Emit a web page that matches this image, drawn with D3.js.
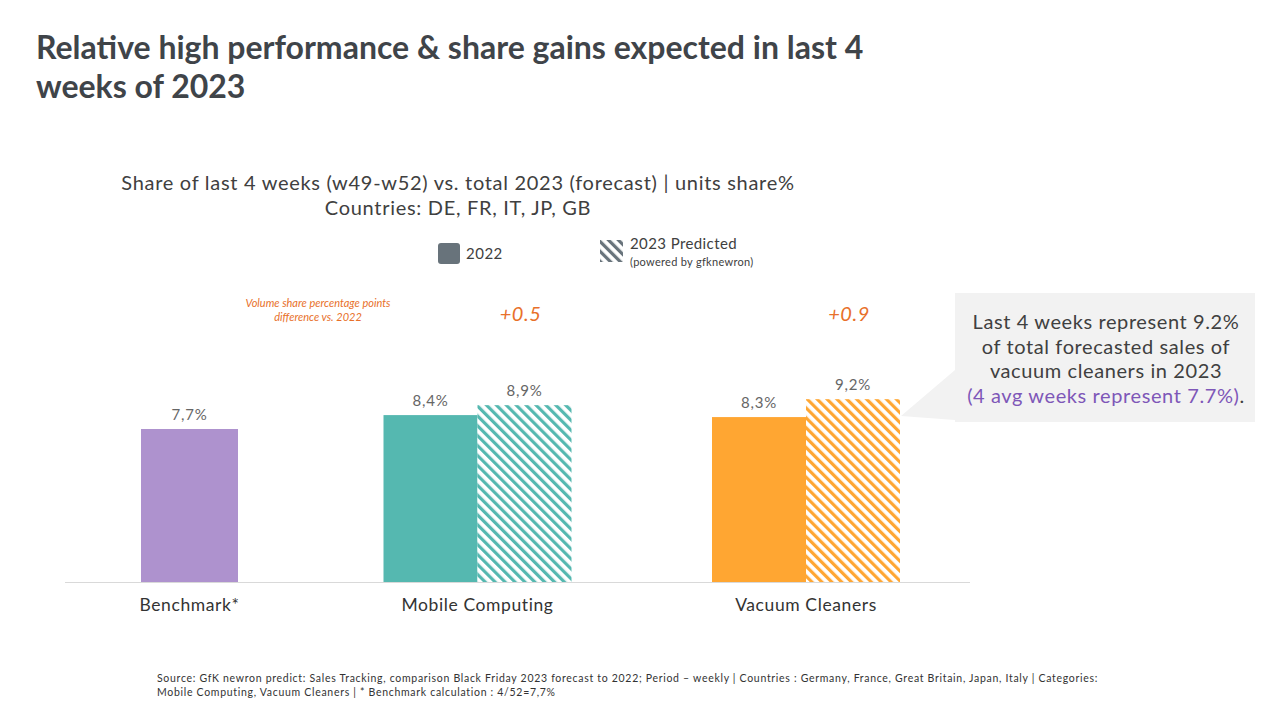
<!DOCTYPE html>
<html>
<head>
<meta charset="utf-8">
<script src="https://cdn.jsdelivr.net/npm/d3@7"></script>
<style>
  body { margin: 0; background: #fff; }
  svg { font-family: Lato, "Open Sans", sans-serif; }
</style>
</head>
<body>
<svg id="chart" width="1280" height="720"></svg>
<script>
// data
const categories = ["Benchmark*", "Mobile Computing", "Vacuum Cleaners"];
const seriesNames = ["2022", "2023 Predicted"];
const values2022 = [7.7, 8.4, 8.3];
const values2023 = [null, 8.9, 9.2];
const valueLabels2022 = ["7,7%", "8,4%", "8,3%"];
const valueLabels2023 = [null, "8,9%", "9,2%"];
const diffLabels = [null, "+0.5", "+0.9"];
const categoryColors = ["#AE92CE", "#55B8B0", "#FFA632"];

const titleLines = ["Relative high performance & share gains expected in last 4", "weeks of 2023"];
const subtitleLines = ["Share of last 4 weeks (w49-w52) vs. total 2023 (forecast) | units share%", "Countries: DE, FR, IT, JP, GB"];
const noteLines = ["Volume share percentage points", "difference vs. 2022"];
const calloutLines = ["Last 4 weeks represent 9.2%", "of total forecasted sales of", "vacuum cleaners in 2023"];
const calloutPurple = "(4 avg weeks represent 7.7%)";
const sourceLines = [
  "Source: GfK newron predict: Sales Tracking, comparison Black Friday 2023 forecast to 2022; Period \u2013 weekly  | Countries : Germany, France, Great Britain, Japan, Italy | Categories:",
  "Mobile Computing, Vacuum Cleaners | * Benchmark calculation :  4/52=7,7%"
];

const svg = d3.select("#chart");
const baseline = 582;

// scales (category centres are not evenly spaced in the original)
const x = d3.scaleOrdinal().domain(categories).range([189.5, 477.5, 806]);
const barW = 94;
const inner = d3.scaleBand().domain(seriesNames).range([-barW, barW]);
const y = d3.scaleLinear().domain([0, 10]).range([baseline, baseline - 198.7]);

// hatch patterns
const defs = svg.append("defs");
function hatch(id, color) {
  const p = defs.append("pattern")
    .attr("id", id)
    .attr("patternUnits", "userSpaceOnUse")
    .attr("width", 7).attr("height", 7)
    .attr("patternTransform", "rotate(-45)");
  p.append("rect").attr("width", 7).attr("height", 7).attr("fill", "#fff");
  p.append("rect").attr("x", 0).attr("width", 3.2).attr("height", 7).attr("fill", color);
}
categoryColors.forEach((c, i) => hatch("hatch" + i, c));
hatch("hatchLegend", "#68737B");

// title
svg.append("text")
  .attr("fill", "#3F4449")
  .attr("font-size", 32).attr("font-weight", 700)
  .selectAll("tspan").data(titleLines).join("tspan")
  .attr("x", 36).attr("y", (d, i) => 59 + i * 39)
  .text(d => d);

// subtitle
svg.append("text")
  .attr("text-anchor", "middle")
  .attr("fill", "#404040")
  .attr("font-size", 20).attr("letter-spacing", 0.7)
  .selectAll("tspan").data(subtitleLines).join("tspan")
  .attr("x", 458).attr("y", (d, i) => 190 + i * 25)
  .text(d => d);

// legend
const legend = svg.append("g");
legend.append("rect")
  .attr("x", 438).attr("y", 243).attr("width", 22).attr("height", 21)
  .attr("rx", 3).attr("fill", "#68737B");
legend.append("text")
  .attr("x", 466).attr("y", 259).attr("font-size", 15).attr("letter-spacing", 0.5).attr("fill", "#404040")
  .text(seriesNames[0]);
legend.append("rect")
  .attr("x", 600).attr("y", 240).attr("width", 23).attr("height", 22)
  .attr("fill", "url(#hatchLegend)");
legend.append("text")
  .attr("x", 630).attr("y", 249).attr("font-size", 15).attr("letter-spacing", 0.4).attr("fill", "#404040")
  .text(seriesNames[1]);
legend.append("text")
  .attr("x", 630).attr("y", 266).attr("font-size", 11).attr("letter-spacing", 0.3).attr("fill", "#404040")
  .text("(powered by gfknewron)");

// orange note
svg.append("text")
  .attr("text-anchor", "middle")
  .attr("fill", "#E8702A")
  .attr("font-size", 11).attr("font-style", "italic")
  .selectAll("tspan").data(noteLines).join("tspan")
  .attr("x", 318).attr("y", (d, i) => 307 + i * 14)
  .text(d => d);

// axis line
svg.append("line")
  .attr("x1", 65).attr("x2", 970)
  .attr("y1", baseline + 0.5).attr("y2", baseline + 0.5)
  .attr("stroke", "#D9D9D9").attr("stroke-width", 1);

// bars
const bars = [];
categories.forEach((c, i) => {
  if (values2023[i] == null) {
    bars.push({ v: values2022[i], label: valueLabels2022[i], x0: x(c) - barW / 2 - 1.5, w: barW + 3, fill: categoryColors[i] });
  } else {
    bars.push({ v: values2022[i], label: valueLabels2022[i], x0: x(c) + inner(seriesNames[0]), w: barW, fill: categoryColors[i] });
    bars.push({ v: values2023[i], label: valueLabels2023[i], x0: x(c) + inner(seriesNames[1]), w: barW, fill: "url(#hatch" + i + ")" });
  }
});

svg.selectAll(".bar").data(bars).join("rect")
  .attr("class", "bar")
  .attr("x", d => d.x0)
  .attr("width", d => d.w)
  .attr("y", d => y(d.v))
  .attr("height", d => baseline - y(d.v))
  .attr("fill", d => d.fill);

svg.selectAll(".vlabel").data(bars).join("text")
  .attr("class", "vlabel")
  .attr("x", d => d.x0 + d.w / 2)
  .attr("y", d => y(d.v) - 9)
  .attr("text-anchor", "middle")
  .attr("font-size", 15).attr("letter-spacing", 0.8)
  .attr("fill", "#666")
  .text(d => d.label);

// difference labels
svg.selectAll(".diff").data(categories.filter((c, i) => diffLabels[i] != null)).join("text")
  .attr("class", "diff")
  .attr("x", c => x(c) + 43)
  .attr("y", 321)
  .attr("text-anchor", "middle")
  .attr("font-size", 20).attr("font-style", "italic").attr("letter-spacing", 0.5)
  .attr("fill", "#E8702A")
  .text(c => diffLabels[categories.indexOf(c)]);

// category labels
svg.selectAll(".cat").data(categories).join("text")
  .attr("class", "cat")
  .attr("x", c => x(c))
  .attr("y", 611)
  .attr("text-anchor", "middle")
  .attr("font-size", 17.5).attr("letter-spacing", 0.6)
  .attr("fill", "#333")
  .text(c => c);

// callout
const callout = svg.append("g");
callout.append("path")
  .attr("d", "M955,293 H1255 V422 H955 V420 L901,416 L955,370 Z")
  .attr("fill", "#F2F2F2");
callout.append("text")
  .attr("text-anchor", "middle")
  .attr("font-size", 20).attr("letter-spacing", 0.6)
  .attr("fill", "#404040")
  .selectAll("tspan").data(calloutLines).join("tspan")
  .attr("x", 1106).attr("y", (d, i) => 329 + i * 24.5)
  .text(d => d);
const last = callout.append("text")
  .attr("x", 1106).attr("y", 403)
  .attr("text-anchor", "middle")
  .attr("font-size", 20).attr("letter-spacing", 0.6);
last.append("tspan").attr("fill", "#7E57B8").text(calloutPurple);
last.append("tspan").attr("fill", "#404040").text(".");

// source
svg.append("text")
  .attr("font-size", 10.5).attr("letter-spacing", 0.7)
  .attr("fill", "#333")
  .selectAll("tspan").data(sourceLines).join("tspan")
  .attr("x", 157).attr("y", (d, i) => 682 + i * 14)
  .text(d => d);
</script>
</body>
</html>
